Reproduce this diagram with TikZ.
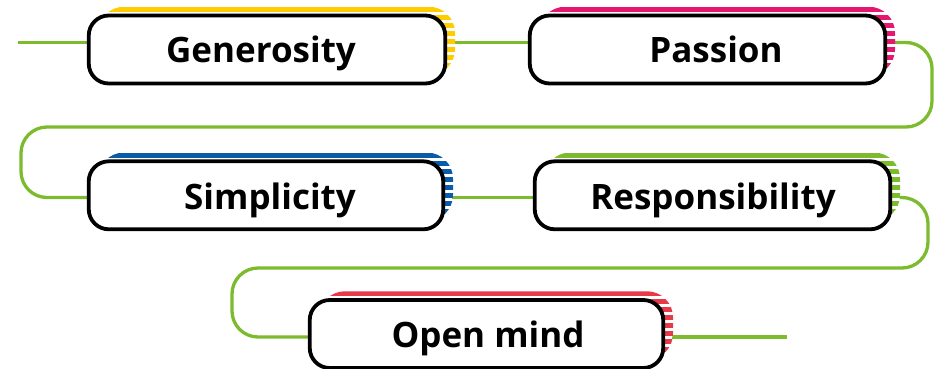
\documentclass[tikz,border=0pt]{standalone}
\usepackage{fontspec}
\setmainfont{Open Sans}
\usetikzlibrary{calc}
\pgfdeclarelayer{bg}
\pgfdeclarelayer{sh}
\pgfsetlayers{bg,sh,main}
\definecolor{cyellow}{HTML}{FFCC00}
\definecolor{cpink}{HTML}{E5176F}
\definecolor{cblue}{HTML}{0A5CA8}
\definecolor{cgreen}{HTML}{7DBB2E}
\definecolor{cred}{HTML}{E8394B}
\tikzset{
  box/.style={draw=black, line width=3.8pt, fill=white, rounded corners=20pt,
    minimum height=68pt, inner sep=0pt, outer sep=0pt},
  lbl/.style={anchor=base, inner sep=0pt, font=\fontsize{35}{40}\selectfont\bfseries},
  conn/.style={draw=cgreen, line width=3.3pt, rounded corners=26pt}
}
\newcommand\stripedback[2]{%
  \coordinate (#1sa) at ($(#1.north west)+(9.25,-8.75)$);
  \coordinate (#1sb) at ($(#1.south east)+(9.75,-8.25)$);
  \begin{scope}
    \clip[rounded corners=26pt] (#1sa) rectangle (#1sb);
    \fill[white] (#1sa) rectangle (#1sb);
    \foreach \k in {0,...,10} {\fill[#2] ($(#1sa)+(0,\k*8)$) rectangle ++(420,5);}
  \end{scope}}
\begin{document}
\begin{tikzpicture}[x=1pt,y=-1pt]
\useasboundingbox (0,0) rectangle (940,368);
% boxes
\node[box, minimum width=356.5pt] (g) at (267,49.5) {};
\node[box, minimum width=355.5pt] (p) at (707.5,49.5) {};
\node[box, minimum width=354.5pt] (s) at (266,195.3) {};
\node[box, minimum width=355.5pt] (r) at (712.5,195.3) {};
\node[box, minimum width=353.5pt] (o) at (486.5,334) {};
% labels
\node[lbl] (gt) at (261,62) {Generosity};
\node[lbl] (pt) at (716,62) {Passion};
\node[lbl] (st) at (270,209.5) {Simplicity};
\node[lbl] (rt) at (713,209.5) {Responsibility};
\node[lbl] (ot) at (488,347) {Open mind};
% striped backs
\begin{pgfonlayer}{sh}
  \stripedback{g}{cyellow}
  \stripedback{p}{cpink}
  \stripedback{s}{cblue}
  \stripedback{r}{cgreen}
  \stripedback{o}{cred}
\end{pgfonlayer}
% connectors
\begin{pgfonlayer}{bg}
  \coordinate (a0) at (18,42.5);
  \coordinate (c1) at (932,42.5);
  \coordinate (c2) at (932,127);
  \coordinate (c3) at (21,127);
  \coordinate (c4) at (21,197.5);
  \coordinate (d1) at (928,197.5);
  \coordinate (d2) at (928,268);
  \coordinate (d3) at (232,268);
  \coordinate (d4) at (232,337);
  \coordinate (e0) at (787,337);
  \draw[conn] (a0) -- (a0 -| g.west);
  \draw[conn] (g.east |- a0) -- (p.west |- a0);
  \draw[conn] (p.east |- a0) -- (c1) -- (c2) -- (c3) -- (c4) -- (c4 -| s.west);
  \draw[conn] (s.east |- c4) -- (r.west |- c4);
  \draw[conn] (r.east |- c4) -- (d1) -- (d2) -- (d3) -- (d4) -- (d4 -| o.west);
  \draw[conn] (o.east |- d4) -- (e0);
\end{pgfonlayer}
\end{tikzpicture}
\end{document}
